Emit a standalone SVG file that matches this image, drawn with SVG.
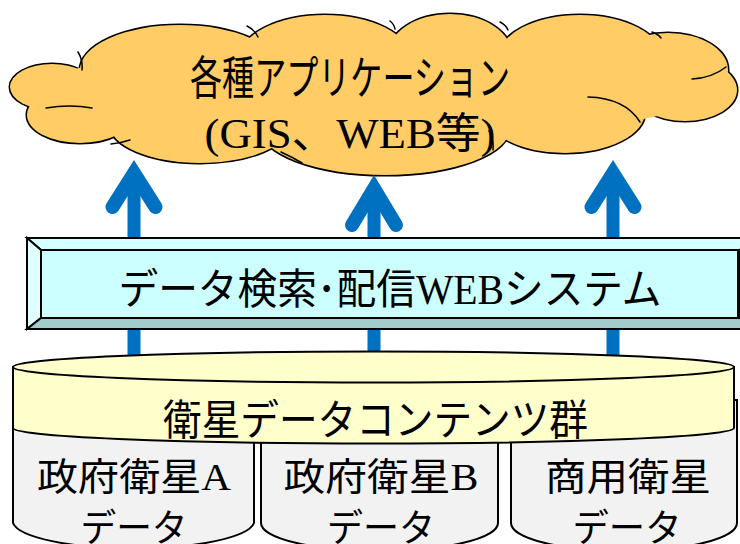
<svg xmlns="http://www.w3.org/2000/svg" width="740" height="544" viewBox="0 0 740 544">
<defs>
<style>
.t{font-family:"Liberation Serif","Noto Sans CJK JP",serif;fill:#000;text-anchor:middle}
.cs{fill:#FFCC66;stroke:#000;stroke-width:3}
.cf{fill:#FFCC66;stroke:none}
.ci{fill:none;stroke:#000;stroke-width:1.5;stroke-linecap:round}
.ah{fill:none;stroke:#0070C0;stroke-width:14;stroke-linecap:round;stroke-linejoin:miter}
.sh{fill:none;stroke:#0070C0;stroke-width:13}
.bv{stroke:#000;stroke-width:2;stroke-linejoin:miter}
.gy{fill:#F2F2F2;stroke:#000;stroke-width:2}
.yl{fill:#FFFFCC;stroke:#000;stroke-width:2}
</style>
<g id="lobes">
<ellipse cx="52" cy="87" rx="42" ry="23"/>
<ellipse cx="80" cy="115" rx="53" ry="28"/>
<ellipse cx="200" cy="125" rx="90" ry="38"/>
<ellipse cx="385" cy="128" rx="125" ry="47"/>
<ellipse cx="565" cy="112" rx="80" ry="41"/>
<ellipse cx="685" cy="90" rx="52" ry="31"/>
<ellipse cx="668" cy="70" rx="60" ry="37"/>
<ellipse cx="580" cy="58" rx="82" ry="43"/>
<ellipse cx="450" cy="55" rx="62" ry="41"/>
<ellipse cx="325" cy="58" rx="85" ry="43"/>
<ellipse cx="180" cy="70" rx="100" ry="45"/>
</g>
</defs>

<g id="cloud">
<use href="#lobes" class="cs"/>
<use href="#lobes" class="cf"/>
<ellipse class="cf" cx="375" cy="90" rx="330" ry="50"/>
<path class="ci" d="M78,52 Q83,60 82,70 M247,26 Q255,30 258,37 M390,21 Q394,24 395,29 M500,22 Q506,25 508,30 M652,32 Q658,34 661,38 M692,79 Q712,78 726,67 M588,97 Q625,98 640,122 M489,131 Q494,140 493,150 M281,152 Q292,157 302,163 M111,144 Q121,143 130,140 M46,108 Q70,104 92,108"/>
<text class="t" x="350" y="94" font-size="46" textLength="320" lengthAdjust="spacingAndGlyphs">各種アプリケーション</text>
<text class="t" x="350" y="148" font-size="42" textLength="291" lengthAdjust="spacingAndGlyphs">(GIS、WEB等)</text>
</g>

<g id="connectors">
<path class="sh" d="M134,175 V360 M374,190 V360 M613,175 V360"/>
<path class="ah" d="M112.5,207 L134,173 L155.5,207"/>
<path class="ah" d="M352,225 L374,188.5 L396,225"/>
<path class="ah" d="M591.5,207 L613,173 L634.5,207"/>
</g>

<g id="webSystem">
<polygon class="bv" fill="#D6FFFF" points="27,238 752,238 740,250 41,250"/>
<polygon class="bv" fill="#E0FFFF" points="27,238 41,250 41,318 27,329"/>
<polygon class="bv" fill="#A3CCCC" points="27,329 752,329 740,318 41,318"/>
<polygon class="bv" fill="#99C2C2" points="752,238 752,329 740,318 740,250"/>
<rect class="bv" fill="#CCFFFF" x="41" y="250" width="697" height="68"/>
<text class="t" x="390" y="304" font-size="42" textLength="543" lengthAdjust="spacingAndGlyphs">データ検索･配信WEBシステム</text>
</g>

<g id="satA">
<path class="gy" d="M13,400 V523 A121,28 0 0 0 254,523 V400 Z"/>
<text class="t" x="134" y="490" font-size="38" textLength="194" lengthAdjust="spacingAndGlyphs">政府衛星A</text>
<text class="t" x="134" y="541" font-size="38" textLength="107" lengthAdjust="spacingAndGlyphs">データ</text>
</g>
<g id="satB">
<path class="gy" d="M261,400 V523 A118.5,28 0 0 0 498,523 V400 Z"/>
<text class="t" x="381" y="490" font-size="38" textLength="195" lengthAdjust="spacingAndGlyphs">政府衛星B</text>
<text class="t" x="381" y="541" font-size="38" textLength="108" lengthAdjust="spacingAndGlyphs">データ</text>
</g>
<g id="satC">
<path class="gy" d="M511,400 V523 A113,28 0 0 0 737,523 V400 Z"/>
<text class="t" x="628" y="490" font-size="38" textLength="166" lengthAdjust="spacingAndGlyphs">商用衛星</text>
<text class="t" x="627" y="541" font-size="38" textLength="109" lengthAdjust="spacingAndGlyphs">データ</text>
</g>

<g id="contents">
<path class="yl" d="M13,367 V428 A360.5,15.5 0 0 0 734,428 V367 Z"/>
<ellipse class="yl" cx="373.5" cy="367" rx="360.5" ry="15.5"/>
<text class="t" x="375.5" y="435" font-size="42" textLength="425" lengthAdjust="spacingAndGlyphs">衛星データコンテンツ群</text>
</g>
</svg>
